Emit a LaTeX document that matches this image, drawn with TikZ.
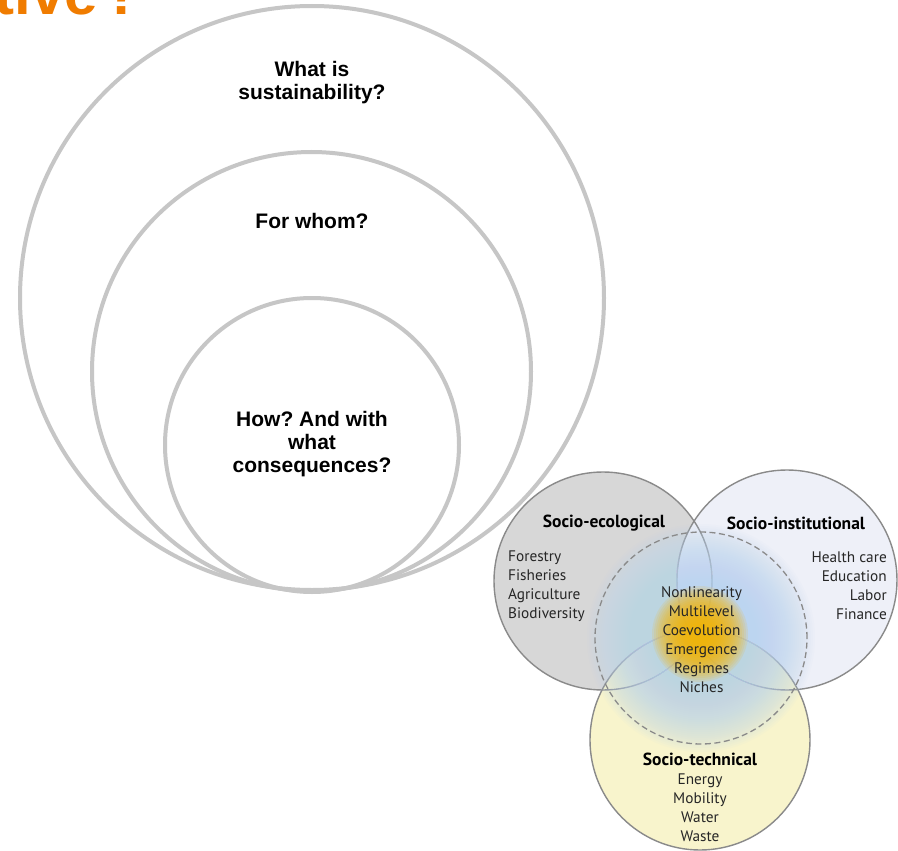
\documentclass[tikz,border=0pt]{standalone}
\usepackage{fontspec}
\setmainfont{Liberation Sans}
\newfontfamily\vennfont{PT Sans}
\definecolor{ring}{HTML}{C6C6C6}
\definecolor{ttl}{HTML}{F07C00}
\definecolor{vline}{HTML}{8A8A8A}
\definecolor{ecofill}{HTML}{D7D7D7}
\definecolor{instfill}{HTML}{EEF0F8}
\definecolor{techfill}{HTML}{F8F4CC}
\definecolor{vblue}{HTML}{BCD5F0}
\definecolor{vgold}{HTML}{F6B400}
\tikzset{
  ringline/.style={draw=ring, line width=4pt},
  vcircle/.style={draw=vline, line width=1.4pt},
  qtext/.style={align=center, inner sep=0pt, font=\bfseries\fontsize{21}{23}\selectfont},
  vtitle/.style={inner sep=0pt, font=\vennfont\bfseries\fontsize{17.5}{19}\selectfont},
  vlist/.style={inner sep=0pt, font=\vennfont\fontsize{15.3}{19}\selectfont, text=black!85},
}
\frenchspacing
\begin{document}
\begin{tikzpicture}[x=1pt,y=-1pt]
\useasboundingbox (0,0) rectangle (898,851);
\clip (0,0) rectangle (898,851);
\fill[white] (0,0) rectangle (898,851);

% title fragment
\node[anchor=base east, text=ttl, inner sep=0pt, font=\bfseries\fontsize{60}{60}\selectfont] (title) at (141,15) {tive\kern6pt?};

% Venn diagram
\coordinate (cEco) at (603,581);
\coordinate (cInst) at (787,580);
\coordinate (cTech) at (700,740);
\coordinate (cCore) at (701,638);
\coordinate (cGold) at (700,634);
\fill[ecofill] (cEco) circle (109pt);
\fill[instfill] (cInst) circle (110pt);
\fill[techfill] (cTech) circle (110pt);
\draw[vcircle] (cEco) circle (109pt);
\draw[vcircle] (cInst) circle (110pt);
\draw[vcircle] (cTech) circle (110pt);
\foreach \r in {114,112,...,28} \fill[vblue, fill opacity=0.06] (cCore) circle (\r pt);
\foreach \r in {48,46,...,10} \fill[vgold, fill opacity=0.12] (cGold) circle (\r pt);
\draw[vline, line width=1.3pt, dash pattern=on 6pt off 3.5pt] (cCore) circle (106pt);

\node[vtitle] (eco) at (604,523) {Socio-ecological};
\node[vtitle] (inst) at (796,523) {Socio-institutional};
\node[vtitle] (tech) at (700,759) {Socio-technical};
\node[vlist, align=left, anchor=west] (ecol) at (508,586) {Forestry\\Fisheries\\Agriculture\\Biodiversity};
\node[vlist, align=right, anchor=east] (instl) at (887,586) {Health care\\Education\\Labor\\Finance};
\node[vlist, align=center] (core) at (701.5,639.5) {Nonlinearity\\Multilevel\\Coevolution\\Emergence\\Regimes\\Niches};
\node[vlist, align=center] (techl) at (700,808) {Energy\\Mobility\\Water\\Waste};

% nested question circles
\draw[ringline] (312,298) circle (292pt);
\draw[ringline] (311.5,371.5) circle (219.5pt);
\draw[ringline] (312,445) circle (147pt);

\node[qtext] (q1) at (312,83) {What is\\sustainability?};
\node[qtext] (q2) at (312,221) {For whom?};
\node[qtext] (q3) at (312,444) {How? And with\\what\\consequences?};
\end{tikzpicture}
\end{document}
